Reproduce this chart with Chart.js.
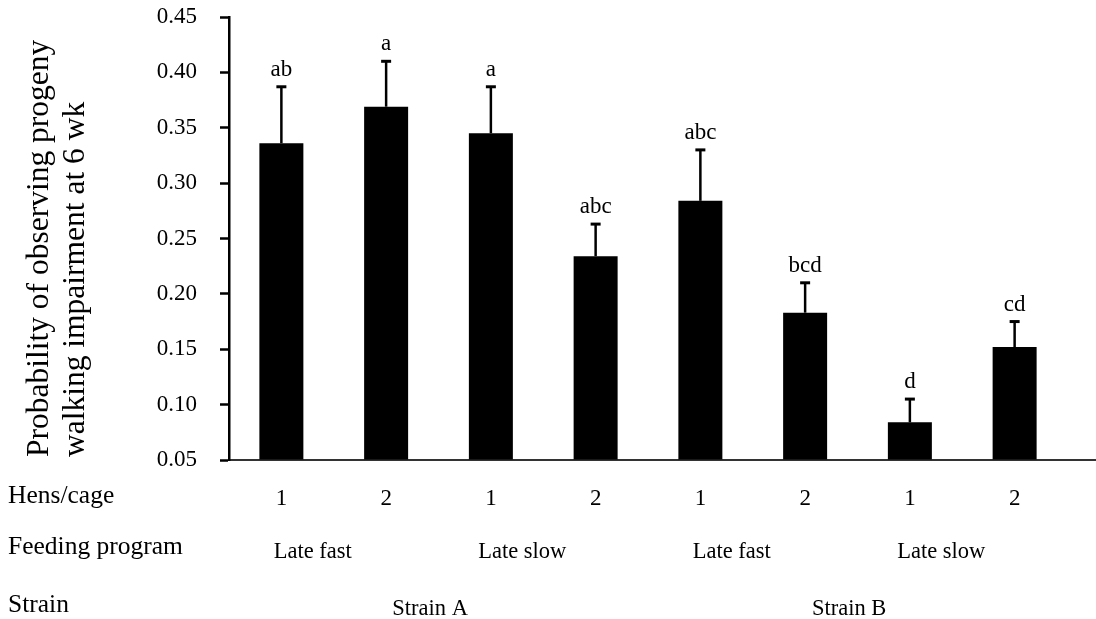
<!DOCTYPE html>
<html lang="en">
<head>
    <meta charset="UTF-8">
    <title>Walking impairment by hens/cage, feeding program and strain</title>
    <script src="https://cdn.jsdelivr.net/npm/chart.js"></script>
    <style>
        html, body { margin: 0; padding: 0; background: #fff; }
        #wrap { width: 1096px; height: 619px; }
    </style>
</head>
<body>
<div id="wrap"><canvas id="chart"></canvas></div>

<script>
    // values
    const hensPerCage = ['1', '2', '1', '2', '1', '2', '1', '2'];
    const feedingPrograms = ['Late fast', 'Late slow', 'Late fast', 'Late slow'];
    const strains = ['Strain A', 'Strain B'];
    const probability = [0.336, 0.369, 0.345, 0.234, 0.284, 0.183, 0.084, 0.152];
    const stdError = [0.051, 0.041, 0.042, 0.029, 0.046, 0.027, 0.021, 0.023];
    const letters = ['ab', 'a', 'a', 'abc', 'abc', 'bcd', 'd', 'cd'];
    const yTicks = [0.05, 0.10, 0.15, 0.20, 0.25, 0.30, 0.35, 0.40, 0.45];

    const serif = "'Liberation Serif', 'Times New Roman', serif";

    // error bars, letters, row labels and the rotated y title
    const extras = {
        id: 'extras',
        afterDatasetsDraw(chart) {
            const ctx = chart.ctx;
            const x = chart.scales.x;
            const y = chart.scales.y;
            const area = chart.chartArea;
            const slot = x.getPixelForValue(1) - x.getPixelForValue(0);

            ctx.save();
            ctx.strokeStyle = '#000';
            ctx.fillStyle = '#000';

            // upper error bars
            probability.forEach((v, i) => {
                const cx = x.getPixelForValue(i);
                const top = y.getPixelForValue(v + stdError[i]);
                ctx.lineWidth = 2.5;
                ctx.beginPath();
                ctx.moveTo(cx, y.getPixelForValue(v));
                ctx.lineTo(cx, top);
                ctx.stroke();
                ctx.lineWidth = 3;
                ctx.beginPath();
                ctx.moveTo(cx - 5, top);
                ctx.lineTo(cx + 5, top);
                ctx.stroke();

                ctx.font = '23px ' + serif;
                ctx.textAlign = 'center';
                ctx.textBaseline = 'alphabetic';
                ctx.fillText(letters[i], cx, top - 11);
            });

            // x axis runs on to the right edge
            ctx.lineWidth = 2;
            ctx.strokeStyle = '#333';
            ctx.beginPath();
            ctx.moveTo(area.right - 2, area.bottom);
            ctx.lineTo(chart.width, area.bottom);
            ctx.stroke();

            // row headers
            ctx.font = '25.5px ' + serif;
            ctx.textAlign = 'left';
            ctx.textBaseline = 'alphabetic';
            ctx.fillText('Hens/cage', 8, 503);
            ctx.fillText('Feeding program', 8, 554);
            ctx.fillText('Strain', 8, 612);

            // feeding program and strain labels under their groups
            ctx.font = '22.5px ' + serif;
            ctx.textAlign = 'center';
            feedingPrograms.forEach((p, i) => {
                const mid = (x.getPixelForValue(2 * i) + x.getPixelForValue(2 * i + 1)) / 2;
                ctx.fillText(p, mid - 0.2 * slot, 558);
            });
            strains.forEach((s, i) => {
                const mid = (x.getPixelForValue(4 * i) + x.getPixelForValue(4 * i + 3)) / 2;
                ctx.fillText(s, mid - 0.08 * slot, 615);
            });

            // y title, two lines
            ctx.translate(0, 457);
            ctx.rotate(-Math.PI / 2);
            ctx.font = '31.5px ' + serif;
            ctx.textAlign = 'left';
            ctx.textBaseline = 'middle';
            ctx.fillText('Probability of observing progeny', 0, 40);
            ctx.fillText('walking impairment at 6 wk', 0, 76);
            ctx.restore();
        }
    };

    new Chart(document.getElementById('chart'), {
        type: 'bar',
        data: {
            labels: hensPerCage,
            datasets: [{
                data: probability,
                base: yTicks[0],
                backgroundColor: '#000',
                borderWidth: 0,
                categoryPercentage: 1,
                barPercentage: 0.42
            }]
        },
        options: {
            responsive: true,
            maintainAspectRatio: false,
            animation: false,
            layout: { padding: { top: 0, right: 29 } },
            plugins: {
                legend: { display: false },
                tooltip: { enabled: false }
            },
            scales: {
                x: {
                    grid: { display: false, drawTicks: false },
                    border: { color: '#333', width: 2 },
                    ticks: {
                        color: '#000',
                        font: { family: serif, size: 23 },
                        padding: 25,
                        maxRotation: 0
                    },
                    afterFit(scale) { scale.height = 159; }
                },
                y: {
                    min: yTicks[0],
                    max: yTicks[yTicks.length - 1],
                    grid: {
                        display: true,
                        drawOnChartArea: false,
                        drawTicks: true,
                        tickLength: 9,
                        tickColor: '#000',
                        tickWidth: 2.5
                    },
                    border: { color: '#000', width: 2.5 },
                    afterBuildTicks(scale) {
                        scale.ticks = yTicks.map(v => ({ value: v }));
                    },
                    ticks: {
                        color: '#000',
                        font: { family: serif, size: 23 },
                        padding: 23,
                        callback: v => v.toFixed(2)
                    },
                    afterFit(scale) {
                        scale.width = 229;
                        scale.paddingTop = 17;
                        scale.paddingBottom = 0;
                    }
                }
            }
        },
        plugins: [extras]
    });
</script>
</body>
</html>
